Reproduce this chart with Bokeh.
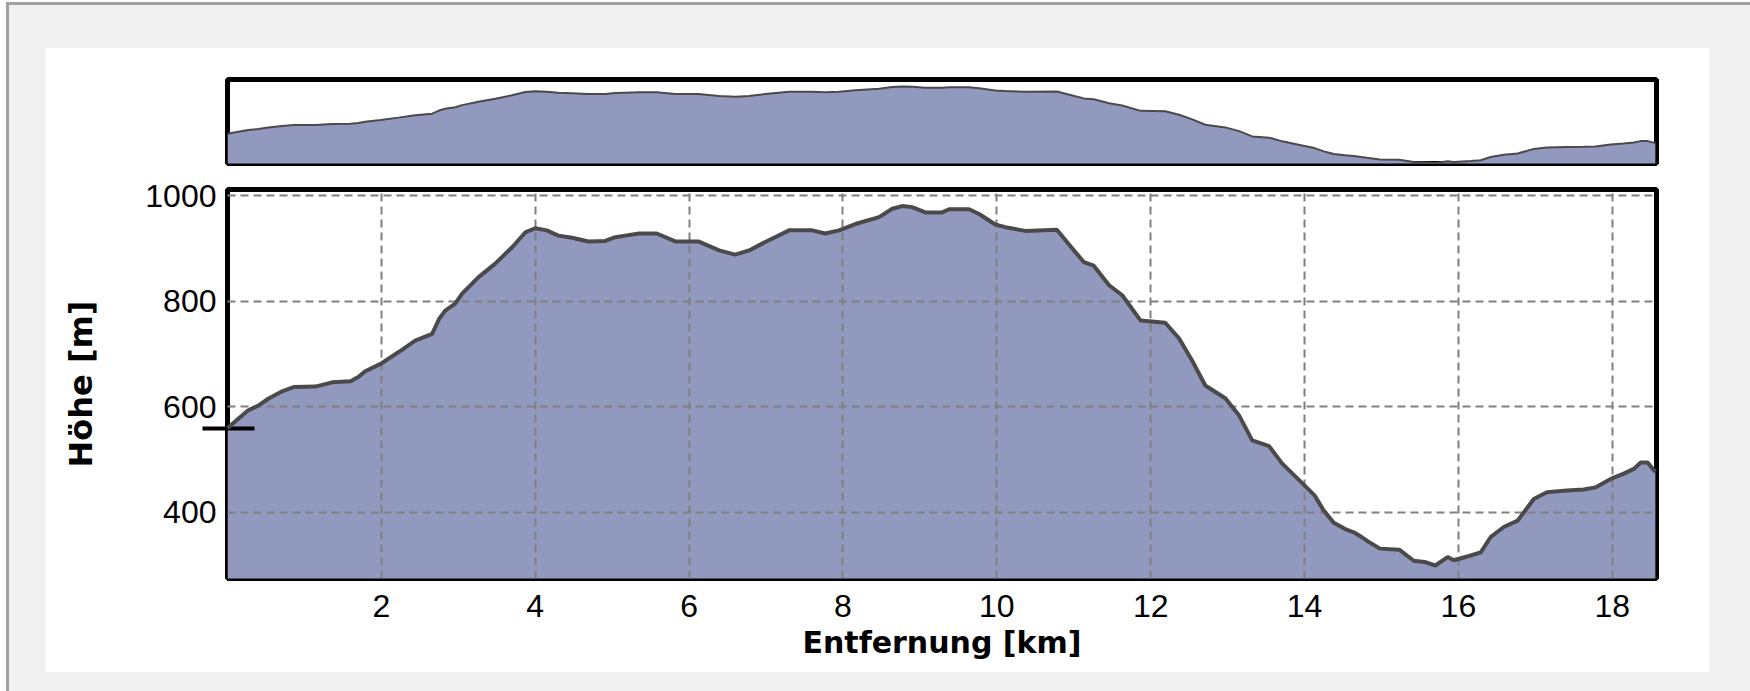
from bokeh.plotting import figure
from bokeh.layouts import column
from bokeh.models import FixedTicker, ColumnDataSource, Range1d
from bokeh.embed import file_html
from bokeh.resources import INLINE

# ---- data ----
distance_km = [0.00, 0.14, 0.27, 0.40, 0.53, 0.71, 0.86, 1.14, 1.36, 1.60, 1.70, 1.79,
               1.99, 2.22, 2.44, 2.66, 2.75, 2.83, 2.96, 3.05, 3.26, 3.48, 3.70, 3.87,
               4.00, 4.15, 4.30, 4.48, 4.69, 4.91, 5.04, 5.17, 5.35, 5.58, 5.82, 6.12,
               6.39, 6.60, 6.78, 6.99, 7.30, 7.60, 7.77, 7.95, 8.16, 8.47, 8.64, 8.77,
               8.90, 9.07, 9.29, 9.38, 9.64, 9.77, 9.98, 10.11, 10.37, 10.78, 11.02, 11.13,
               11.26, 11.46, 11.63, 11.87, 12.19, 12.37, 12.54, 12.71, 12.97, 13.15, 13.32, 13.54,
               13.71, 13.97, 14.13, 14.25, 14.38, 14.53, 14.64, 14.71, 14.81, 14.98, 15.23, 15.42,
               15.58, 15.70, 15.86, 15.94, 16.16, 16.29, 16.42, 16.59, 16.77, 16.98, 17.15, 17.41,
               17.63, 17.78, 17.98, 18.15, 18.28, 18.37, 18.46, 18.56]
elevation_m = [559, 577, 593, 602, 615, 629, 637, 638, 646, 648, 656, 667,
               681, 703, 725, 738, 766, 782, 795, 814, 845, 871, 902, 930,
               938, 934, 924, 920, 913, 914, 921, 924, 928, 928, 913, 913,
               896, 888, 896, 912, 934, 934, 928, 934, 946, 959, 975, 980,
               978, 968, 968, 974, 974, 965, 945, 940, 933, 935, 893, 874,
               867, 830, 811, 763, 759, 729, 687, 640, 616, 583, 536, 525,
               492, 455, 432, 403, 380, 368, 362, 356, 346, 331, 329, 308,
               305, 299, 315, 309, 318, 324, 353, 372, 384, 425, 438, 441,
               443, 447, 463, 473, 482, 494, 494, 476]
x_ticks = [2, 4, 6, 8, 10, 12, 14, 16, 18]
y_ticks = [400, 600, 800, 1000]
x_title = "Entfernung [km]"
y_title = "Höhe [m]"

FILL = "#9299be"
LINE = "#4a4a4a"
GRID = "#808080"

src = ColumnDataSource(dict(x=distance_km, y=elevation_m))
xr = Range1d(0, 18.575)

# ---- overview strip ----
mini = figure(width=1664, height=128, x_range=xr, y_range=Range1d(295, 1042),
              output_backend="svg", toolbar_location=None,
              x_axis_location=None, y_axis_location=None,
              min_border_left=182, min_border_right=53, min_border_top=31, min_border_bottom=13)
mini.grid.visible = False
mini.outline_line_color = "black"
mini.outline_line_width = 5
mini.background_fill_color = "white"
mini.border_fill_color = "white"
mini.varea(x="x", y1=0, y2="y", source=src, fill_color=FILL)
mini.line(x="x", y="y", source=src, line_color=LINE, line_width=2)

# ---- main profile ----
p = figure(width=1664, height=496, x_range=xr, y_range=Range1d(274.4, 1011.4),
           output_backend="svg", toolbar_location=None,
           min_border_left=182, min_border_right=53, min_border_top=13, min_border_bottom=94)
p.outline_line_color = "black"
p.outline_line_width = 5
p.background_fill_color = "white"
p.border_fill_color = "white"

p.varea(x="x", y1=0, y2="y", source=src, fill_color=FILL)
p.line(x="x", y="y", source=src, line_color=LINE, line_width=4, level="overlay")

p.xaxis.ticker = FixedTicker(ticks=x_ticks)
# start-position marker drawn as a minor tick crossing the frame at the start elevation
p.yaxis.ticker = FixedTicker(ticks=y_ticks, minor_ticks=[elevation_m[0]])
p.xgrid.ticker = FixedTicker(ticks=x_ticks)
p.ygrid.ticker = FixedTicker(ticks=y_ticks)
p.grid.grid_line_color = GRID
p.grid.grid_line_width = 2
p.grid.grid_line_dash = "8 5"
p.grid.level = "annotation"

for ax in (p.xaxis, p.yaxis):
    ax.axis_line_color = None
    ax.major_tick_line_color = None
    ax.major_tick_out = 0
    ax.major_tick_in = 0
    ax.major_label_text_font = "Liberation Sans"
    ax.major_label_text_font_size = "32px"
    ax.major_label_text_color = "black"
    ax.axis_label_text_font = "DejaVu Sans"
    ax.axis_label_text_font_style = "bold"
    ax.axis_label_text_color = "black"

p.xaxis.minor_tick_line_color = None
p.yaxis.minor_tick_line_color = "black"
p.yaxis.minor_tick_line_width = 4
p.yaxis.minor_tick_out = 25
p.yaxis.minor_tick_in = 27

p.xaxis.axis_label = x_title
p.yaxis.axis_label = y_title
p.xaxis.axis_label_text_font_size = "30px"
p.yaxis.axis_label_text_font_size = "32px"
p.xaxis.major_label_standoff = 16
p.xaxis.axis_label_standoff = 5
p.yaxis.major_label_standoff = -14
p.yaxis.axis_label_standoff = 42

panel = column(mini, p, spacing=0, margin=(48, 41, 19, 45),
               styles={"background-color": "#ffffff"})
layout = column(panel, styles={
    "background-color": "#f0f0f0",
    "box-shadow": "inset 6px 2px 0 0 #ffffff, inset 9px 5px 0 0 #a0a0a0",
})

open("out.html", "w").write(file_html(layout, INLINE))
